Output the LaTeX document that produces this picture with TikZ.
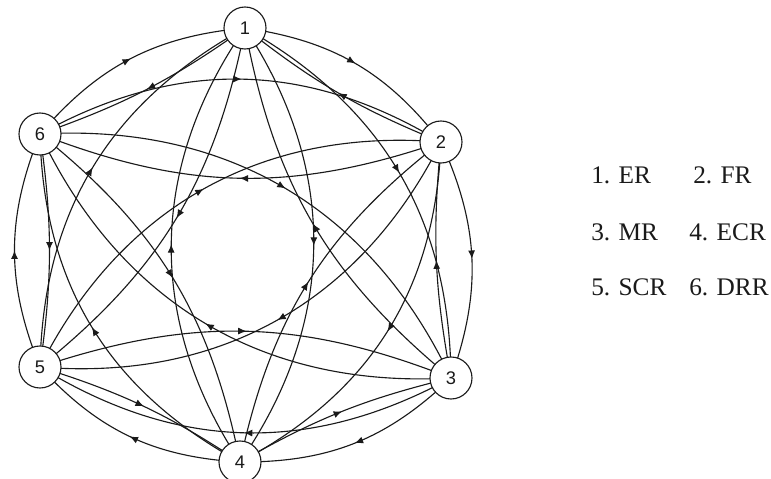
\documentclass[tikz,border=0pt]{standalone}
\usepackage{fontspec}
\setmainfont{Liberation Serif}
\newfontfamily\numfont{Liberation Sans}
\usetikzlibrary{arrows.meta,decorations.markings}
\definecolor{ink}{HTML}{1A1A1A}

\begin{document}
\begin{tikzpicture}[x=.025cm,y=-.025cm,>=Latex,line width=.8pt,every node/.style={text=ink},state/.style={circle,draw=ink,fill=white,minimum size=1.05cm,inner sep=0pt,font=\numfont\fontsize{13}{13}\selectfont},legend/.style={anchor=west,font=\fontsize{18}{20}\selectfont},arc/.style={ink,postaction={decorate},decoration={markings,mark=at position .5 with {\arrow{Latex[length=6pt,width=5pt]}}}}]
\path[use as bounding box] (0,0) rectangle (771,479);

\coordinate (p1) at (245,28);
\coordinate (p2) at (441,142);
\coordinate (p3) at (451,378);
\coordinate (p4) at (240,462);
\coordinate (p5) at (40,367);
\coordinate (p6) at (40,134);

% neighbours, second neighbours, opposite nodes
\foreach \d/\bo/\bi/\n in {1/22/8/6, 2/30/20/6, 3/34/34/3}{
  \foreach \i in {1,...,\n}{
    \pgfmathtruncatemacro\j{mod(\i+\d-1,6)+1}
    \draw[arc] (p\i) to[bend left=\bo] (p\j);
    \draw[arc] (p\j) to[bend left=\bi] (p\i);
  }
}

\foreach \k in {1,...,6}
  \node[state] (n\k) at (p\k) {\k};

\node[legend] (l1) at (586,175) {1. ER};
\node[legend] (l2) at (688,175) {2. FR};
\node[legend] (l3) at (586,232) {3. MR};
\node[legend] (l4) at (684,232) {4. ECR};
\node[legend] (l5) at (586,287) {5. SCR};
\node[legend] (l6) at (684,287) {6. DRR};

\end{tikzpicture}
\end{document}
